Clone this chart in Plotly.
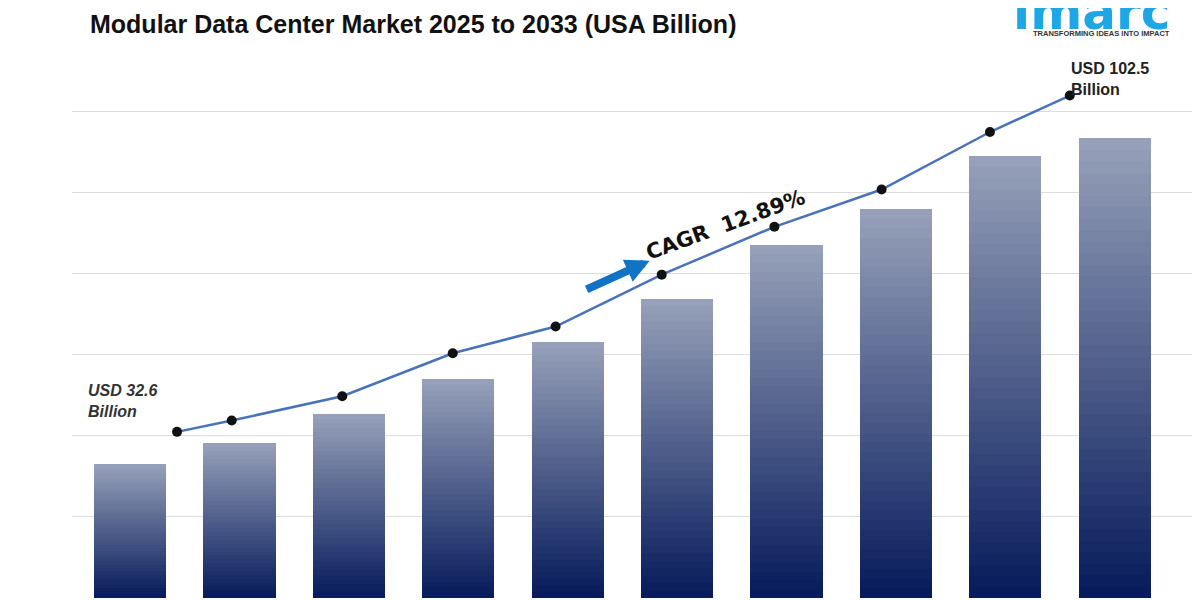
import plotly.graph_objects as go

# bar heights (grid step = 10 units)
bar_x = [0, 1, 2, 3, 4, 5, 6, 7, 8, 9]
bar_vals = [16.5, 19.1, 22.7, 27.0, 31.6, 36.9, 43.5, 48.0, 54.6, 56.7]

# trend line points, offset from bars
line_x = [0.43, 0.93, 1.94, 2.95, 3.89, 4.86, 5.89, 6.87, 7.86, 8.59]
line_vals = [20.5, 21.9, 24.9, 30.2, 33.5, 39.9, 45.8, 50.4, 57.5, 62.0]

top_rgb = (150, 160, 185)
bot_rgb = (8, 28, 92)
n_seg = 40

fig = go.Figure()

# gradient bars: stacked thin segments, light at top, dark at bottom
for k in range(n_seg):
    t = k / (n_seg - 1)
    col = tuple(int(bot_rgb[i] + (top_rgb[i] - bot_rgb[i]) * t) for i in range(3))
    fig.add_trace(go.Bar(
        x=bar_x,
        y=[v / n_seg for v in bar_vals],
        base=[v * k / n_seg for v in bar_vals],
        width=0.66,
        marker=dict(color="rgb(%d,%d,%d)" % col, line=dict(width=0)),
        hoverinfo="skip", showlegend=False,
    ))

fig.add_trace(go.Scatter(
    x=line_x, y=line_vals, mode="lines+markers",
    line=dict(color="#4a72b8", width=2.5),
    marker=dict(color="#111111", size=10),
    showlegend=False,
))

# page has an 8px body margin, so shift everything up/left by 8
fig.update_layout(
    width=1200, height=600,
    margin=dict(l=64, r=8, t=0, b=10, autoexpand=False),
    paper_bgcolor="white", plot_bgcolor="white",
    barmode="overlay", bargap=0,
    font=dict(family="Liberation Sans, Arial"),
    xaxis=dict(range=[-0.53, 9.78], showticklabels=False, showgrid=False,
               zeroline=False),
    yaxis=dict(range=[0, 72.8], tickvals=[10, 20, 30, 40, 50, 60], showticklabels=False,
               gridcolor="#dcdcdc", gridwidth=1, zeroline=False),
)

fig.add_annotation(xref="paper", yref="paper", x=0.014, y=1.0, xanchor="left",
                   yanchor="top", showarrow=False,
                   text="<b>Modular Data Center Market 2025 to 2033 (USA Billion)</b>",
                   font=dict(size=25, color="#111111"))
fig.add_annotation(xref="paper", yref="paper", x=0.975, y=1.045, xanchor="right",
                   yanchor="top", showarrow=False,
                   text="<b>imarc</b>", font=dict(size=50, color="#1ea7e4",
                                                  family="Arial Rounded MT Bold, DejaVu Sans"))
fig.add_annotation(xref="paper", yref="paper", x=0.975, y=0.968, xanchor="right",
                   yanchor="top", showarrow=False,
                   text="<b>TRANSFORMING IDEAS INTO IMPACT</b>",
                   font=dict(size=7.5, color="#333333"))
fig.add_annotation(x=-0.4, y=21.7, xanchor="left", yanchor="bottom", showarrow=False,
                   align="left", text="<b><i>USD 32.6<br>Billion</i></b>",
                   font=dict(size=16, color="#333333"))
fig.add_annotation(x=8.58, y=61.5, xanchor="left", yanchor="bottom", showarrow=False,
                   align="left", text="<b>USD 102.5<br>Billion</b>",
                   font=dict(size=16, color="#222222"))
fig.add_annotation(x=5.44, y=46.0, showarrow=False, textangle=-20,
                   text="<b>CAGR  12.89%</b>", font=dict(size=21, color="#111111",
                                                          family="DejaVu Sans"))
fig.add_annotation(x=4.75, y=41.6, ax=4.16, ay=38.0, xref="x", yref="y",
                   axref="x", ayref="y", text="", showarrow=True,
                   arrowhead=2, arrowsize=0.6, arrowwidth=8, arrowcolor="#1273c4")

fig.write_html("out.html")
